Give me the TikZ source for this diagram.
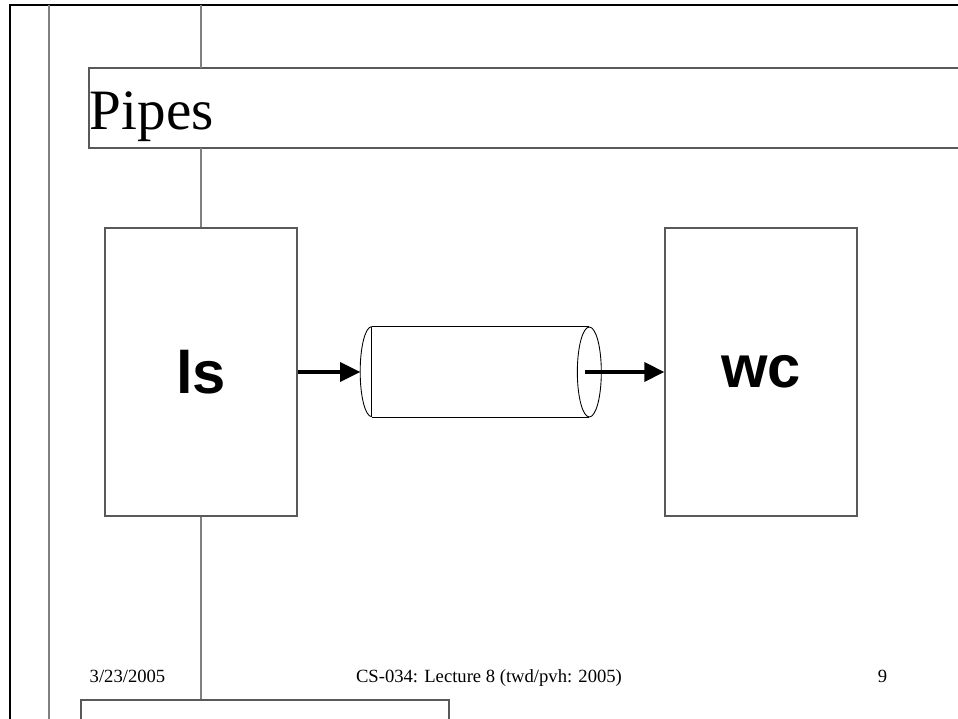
\documentclass[tikz,border=0pt]{standalone}
\usepackage{fontspec}
\setmainfont{Liberation Serif}
\setsansfont{Liberation Sans}
\usetikzlibrary{positioning,arrows.meta}
\tikzset{
  rule/.style={black, line width=1.1pt},
  guide/.style={black!50, line width=0.85pt},
  edge/.style={black!65, line width=0.75pt},
  procbox/.style={draw, edge, text=black, minimum width=3.84cm, minimum height=5.76cm,
    inner sep=0pt, font=\sffamily\bfseries\fontsize{34}{38}\selectfont},
  pipebody/.style={minimum width=4.34cm, minimum height=1.8cm, inner sep=0pt},
  pipeline/.style={black, line width=0.5pt},
  flow/.style={-{Triangle[length=0.4cm, width=0.38cm]}, line width=1.9pt},
  foot/.style={anchor=base, inner sep=0pt, font=\fontsize{10.6}{12}\selectfont}
}

\begin{document}
\begin{tikzpicture}[x=0.02cm, y=-0.02cm]
  \useasboundingbox (0,0) rectangle (958,719);

  % page frame and margin rules
  \draw[rule] (10,719) -- (10,5) -- (958,5);
  \draw[guide] (49,5) -- (49,719);

  % title bar, open to the right
  \draw[edge] (960,68) -- (89,68) -- (89,148) -- (960,148);
  \node[anchor=base west, inner sep=0pt, font=\fontsize{32.5}{36}\selectfont]
    (title) at (89.5,130) {Pipes};

  % the two processes
  \node[procbox] (ls) at (201,372) {ls};
  \node[procbox] (wc) at (761,372) {wc};

  % pipe drawn as a lying cylinder
  \node[pipebody] (pipe) at (480.5,372) {};
  \draw[pipeline] (pipe.north west) -- (pipe.north east);
  \draw[pipeline] (pipe.south west) -- (pipe.south east);
  \draw[pipeline] (pipe.north west) -- (pipe.south west);
  \draw[pipeline] (pipe.north west)
    arc[start angle=90, end angle=270, x radius=0.23cm, y radius=0.9cm];
  \draw[pipeline] (pipe.east) ellipse[x radius=0.24cm, y radius=0.9cm];
  \coordinate (pipein) at ([xshift=-0.23cm]pipe.west);
  \coordinate (pipeout) at ([xshift=-0.08cm]pipe.east);

  \draw[flow] (ls.east |- pipe.west) -- (pipein);
  \draw[flow] (pipeout) -- (wc.west |- pipe.east);

  % vertical guide through the left column
  \draw[guide] (201,5) -- (201,68);
  \draw[guide] (201,148) -- (ls.north);
  \draw[guide] (ls.south) -- (201,700);

  % footer
  \node[foot] (date) at (127.5,683) {3/23/2005};
  \node[foot] (course) at (489,683) {CS-034: Lecture 8 (twd/pvh: 2005)};
  \node[foot] (pageno) at (882.5,683) {9};

  % notes box below
  \draw[edge] (81,719) -- (81,700) -- (449,700) -- (449,719);
\end{tikzpicture}
\end{document}
